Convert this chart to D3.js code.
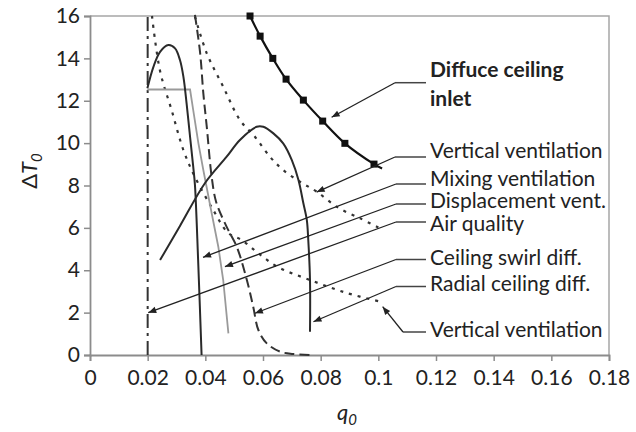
<!DOCTYPE html>
<html>
<head>
  <meta charset="UTF-8">
  <title>Delta T0 vs q0</title>
  <style>
    body { margin: 0; background: #fff; }
    svg { display: block; font-family: Lato, "Open Sans", sans-serif; }
  </style>
</head>
<body>
<svg></svg>
<script src="https://d3js.org/d3.v7.min.js"></script>
<script>

let width = 636, height = 432;

// axis ticks
let xTicks = [0, 0.02, 0.04, 0.06, 0.08, 0.1, 0.12, 0.14, 0.16, 0.18];
let yTicks = [0, 2, 4, 6, 8, 10, 12, 14, 16];

// curves, [q0, dT0]
let diffuseInlet = [[0.0555, 16.0], [0.059, 15.05], [0.0634, 14.0], [0.068, 13.02], [0.074, 12.03],
  [0.0807, 11.04], [0.0884, 9.99], [0.0985, 9.01]];
let diffuseInletEnd = [0.1013, 8.8];

let verticalA = [[0.0215, 16.0], [0.0243, 13.4], [0.0283, 11.56], [0.0324, 9.67], [0.0364, 8.4],
  [0.0425, 6.9], [0.0479, 5.76], [0.0526, 5.43], [0.0583, 4.81], [0.0652, 4.15], [0.0763, 3.54],
  [0.089, 2.93], [0.1006, 2.52]];
let verticalB = [[0.0364, 15.97], [0.0405, 14.24], [0.0462, 12.66], [0.052, 11.09], [0.0572, 10.3],
  [0.0624, 9.36], [0.067, 8.73], [0.0728, 8.18], [0.0786, 7.71], [0.0861, 6.95], [0.0937, 6.45],
  [0.1, 6.02]];
let mixing = [[0.0199, 12.59], [0.022, 13.6], [0.0243, 14.31], [0.0272, 14.63], [0.0295, 14.47],
  [0.0312, 13.92], [0.0324, 13.13], [0.0335, 11.88], [0.0347, 10.3], [0.0358, 8.89], [0.0364, 8.02],
  [0.0375, 4.48], [0.0387, 0]];
let displacement = [[0.0199, 12.53], [0.0347, 12.53], [0.0358, 11.56], [0.0376, 9.99], [0.0393, 8.73],
  [0.0422, 6.69], [0.0445, 5.11], [0.0462, 3.54], [0.048, 1.02]];
let airQuality = [[0.02, 0], [0.02, 16]];
let ceilingSwirl = [[0.0364, 16.05], [0.0382, 14.25], [0.0393, 12.36], [0.0405, 10.77], [0.0422, 8.41],
  [0.0438, 7.2], [0.0474, 6.05], [0.0509, 5.11], [0.0544, 3.54], [0.0566, 2.28], [0.0584, 1.18],
  [0.0613, 0.55], [0.0659, 0.16], [0.0704, 0.05], [0.0769, 0]];
let radial = [[0.0243, 4.48], [0.0312, 6.09], [0.0399, 8.12], [0.0474, 9.36], [0.052, 10.15],
  [0.0578, 10.77], [0.0601, 10.77], [0.0636, 10.46], [0.067, 9.99], [0.07, 9.2], [0.0723, 8.26],
  [0.074, 7.16], [0.0752, 6.37], [0.0757, 5.43], [0.0763, 3.54], [0.0763, 1.1]];

// annotation names and the point each arrow points at
let labelNames = ["Diffuce ceiling|inlet", "Vertical ventilation", "Mixing ventilation",
  "Displacement vent.", "Air quality", "Ceiling swirl diff.", "Radial ceiling diff.", "Vertical ventilation"];
let arrowTips = [[0.0838, 11.22], [0.0786, 7.69], [0.0392, 4.61], [0.0468, 4.17],
  [0.0202, 2.0], [0.0572, 1.97], [0.0775, 1.57], [0.1015, 2.28]];

// where the labels sit (pixels)
let labelLayout = [
  {textY: 77, leaderY: 82.7, x0: 395, bold: true},
  {textY: 158, leaderY: 157, x0: 395},
  {textY: 186, leaderY: 184, x0: 396},
  {textY: 208, leaderY: 204, x0: 396},
  {textY: 231, leaderY: 222, x0: 396},
  {textY: 265, leaderY: 259.5, x0: 396},
  {textY: 291, leaderY: 286.5, x0: 396},
  {textY: 337, leaderY: 332, x0: 403, bent: true}
];

let svg = d3.select("svg")
  .attr("width", width)
  .attr("height", height);

let x = d3.scaleLinear().domain([0, 0.18]).range([90, 609]);
let y = d3.scaleLinear().domain([0, 16]).range([355, 16]);

svg.append("defs").append("marker")
  .attr("id", "arrow")
  .attr("viewBox", "0 -5 10 10")
  .attr("refX", 10)
  .attr("refY", 0)
  .attr("markerUnits", "userSpaceOnUse")
  .attr("markerWidth", 10)
  .attr("markerHeight", 8)
  .attr("orient", "auto")
  .append("path")
  .attr("d", "M0,-4L10,0L0,4Z")
  .attr("fill", "#222");

// frame (top, right)
svg.append("path")
  .attr("d", "M" + x(0) + "," + y(16) + "H" + x(0.18) + "V" + y(0))
  .attr("fill", "none")
  .attr("stroke", "#a6a6a6")
  .attr("stroke-width", 1.5);

// axes
let xAxis = svg.append("g")
  .attr("transform", "translate(0," + y(0) + ")")
  .call(d3.axisBottom(x).tickValues(xTicks).tickSize(6).tickPadding(9)
    .tickFormat(d => String(+d.toFixed(2))));
let yAxis = svg.append("g")
  .attr("transform", "translate(" + x(0) + ",0)")
  .call(d3.axisLeft(y).tickValues(yTicks).tickSize(6).tickPadding(4));

[xAxis, yAxis].forEach(a => {
  a.select(".domain").attr("stroke", "#8c8c8c").attr("stroke-width", 1.8);
  a.selectAll(".tick line").attr("stroke", "#8c8c8c").attr("stroke-width", 1.5);
  a.selectAll(".tick text")
    .attr("fill", "#222")
    .style("font-size", "21px")
    .style("font-family", "Lato, 'Open Sans', sans-serif");
});

// curves
let line = d3.line().x(d => x(d[0])).y(d => y(d[1])).curve(d3.curveCatmullRom.alpha(0.5));
let straight = d3.line().x(d => x(d[0])).y(d => y(d[1]));

let curves = svg.append("g").attr("fill", "none");

curves.append("path").datum(airQuality).attr("d", straight)
  .attr("stroke", "#333").attr("stroke-width", 2).attr("stroke-dasharray", "14 5 3 5");
curves.append("path").datum(verticalA).attr("d", line)
  .attr("stroke", "#333").attr("stroke-width", 2.2).attr("stroke-dasharray", "3 6");
curves.append("path").datum(verticalB).attr("d", line)
  .attr("stroke", "#333").attr("stroke-width", 2.2).attr("stroke-dasharray", "3 6");
curves.append("path").datum(ceilingSwirl).attr("d", line)
  .attr("stroke", "#333").attr("stroke-width", 2).attr("stroke-dasharray", "10 5");
curves.append("path").datum(displacement).attr("d", straight)
  .attr("stroke", "#9a9a9a").attr("stroke-width", 1.8);
curves.append("path").datum(mixing).attr("d", line)
  .attr("stroke", "#2a2a2a").attr("stroke-width", 2);
curves.append("path").datum(radial).attr("d", line)
  .attr("stroke", "#2a2a2a").attr("stroke-width", 2);
curves.append("path").datum(diffuseInlet.concat([diffuseInletEnd])).attr("d", line)
  .attr("stroke", "#111").attr("stroke-width", 2.2);

svg.append("g")
  .selectAll("rect")
  .data(diffuseInlet)
  .enter()
  .append("rect")
  .attr("x", d => x(d[0]) - 3.5)
  .attr("y", d => y(d[1]) - 3.5)
  .attr("width", 7)
  .attr("height", 7)
  .attr("fill", "#111");

// annotations
let notes = svg.append("g");
labelNames.forEach((name, i) => {
  let lay = labelLayout[i];
  let tip = arrowTips[i];
  notes.append("path")
    .attr("d", "M426," + lay.leaderY + "H" + lay.x0)
    .attr("fill", "none")
    .attr("stroke", "#444")
    .attr("stroke-width", 1.5);
  notes.append("line")
    .attr("x1", lay.x0).attr("y1", lay.leaderY)
    .attr("x2", x(tip[0])).attr("y2", y(tip[1]))
    .attr("stroke", "#222")
    .attr("stroke-width", 1.3)
    .attr("marker-end", "url(#arrow)");
  let t = notes.append("text")
    .attr("x", 430)
    .attr("y", lay.textY)
    .attr("fill", "#222")
    .style("font-size", "21px")
    .style("font-weight", lay.bold ? "bold" : "normal");
  name.split("|").forEach((part, j) => {
    t.append("tspan").attr("x", 430).attr("dy", j == 0 ? 0 : 29).text(part);
  });
});

// axis titles
let yTitle = svg.append("text")
  .attr("transform", "translate(37,171) rotate(-90)")
  .attr("text-anchor", "middle")
  .attr("fill", "#222")
  .style("font-size", "22px");
yTitle.append("tspan").text("\u0394");
yTitle.append("tspan").style("font-style", "italic").text("T");
yTitle.append("tspan").style("font-style", "italic").style("font-size", "15px").attr("dy", 5).text("0");

let xTitle = svg.append("text")
  .attr("x", 347)
  .attr("y", 420)
  .attr("text-anchor", "middle")
  .attr("fill", "#222")
  .style("font-size", "22px");
xTitle.append("tspan").style("font-style", "italic").text("q");
xTitle.append("tspan").style("font-style", "italic").style("font-size", "15px").attr("dy", 5).text("0");

</script>
</body>
</html>
